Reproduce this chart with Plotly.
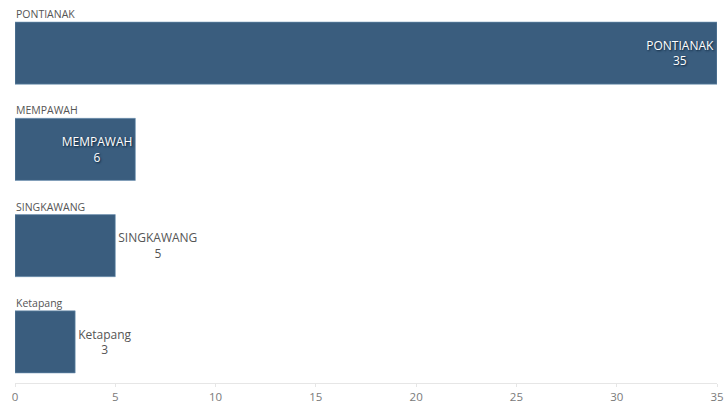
import plotly.graph_objects as go

categories = ["PONTIANAK", "MEMPAWAH", "SINGKAWANG", "Ketapang"]
values = [35, 6, 5, 3]
text_positions = ["inside", "inside", "outside", "outside"]

n = len(categories)
ypos = [n - 1 - i for i in range(n)]
bar_w = 0.645

fig = go.Figure()
fig.add_trace(go.Bar(
    x=values,
    y=ypos,
    orientation="h",
    width=bar_w,
    marker=dict(color="#3a5d7e", line=dict(color="#6f93b3", width=0.6)),
    text=[f"{c}<br>{v}" for c, v in zip(categories, values)],
    textposition=text_positions,
    insidetextanchor="end",
    insidetextfont=dict(color="white", size=12, family="Open Sans", shadow="1px 1px 2px #0b2238"),
    outsidetextfont=dict(color="#555555", size=12, family="Open Sans"),
    cliponaxis=False,
    hoverinfo="skip",
))

for c, y in zip(categories, ypos):
    fig.add_annotation(
        x=0, y=y + bar_w / 2, text=c, showarrow=False,
        xanchor="left", yanchor="bottom", xref="x", yref="y",
        font=dict(size=10.5, color="#555555", family="Open Sans"),
        xshift=-1, yshift=-1,
    )

fig.update_layout(
    width=727, height=404,
    margin=dict(l=15, r=10, t=5, b=21, autoexpand=False),
    plot_bgcolor="white", paper_bgcolor="white",
    showlegend=False,
    font=dict(family="Open Sans"),
)
fig.update_xaxes(
    range=[0, 35], tickmode="linear", tick0=0, dtick=5,
    showgrid=False, zeroline=False, automargin=False,
    showline=True, linecolor="#e6e6e6", linewidth=1,
    ticks="outside", ticklen=3, tickcolor="#e6e6e6",
    tickfont=dict(size=11.5, color="#7a7a7a", family="Open Sans"),
)
fig.update_yaxes(
    range=[-0.427, 3.5], showticklabels=False, showgrid=False,
    zeroline=False, showline=False, ticks="", automargin=False,
)

fig.write_html(
    "out.html",
    config={"displayModeBar": False},
    post_script="document.body.style.margin='0';document.body.style.overflow='hidden';",
)
